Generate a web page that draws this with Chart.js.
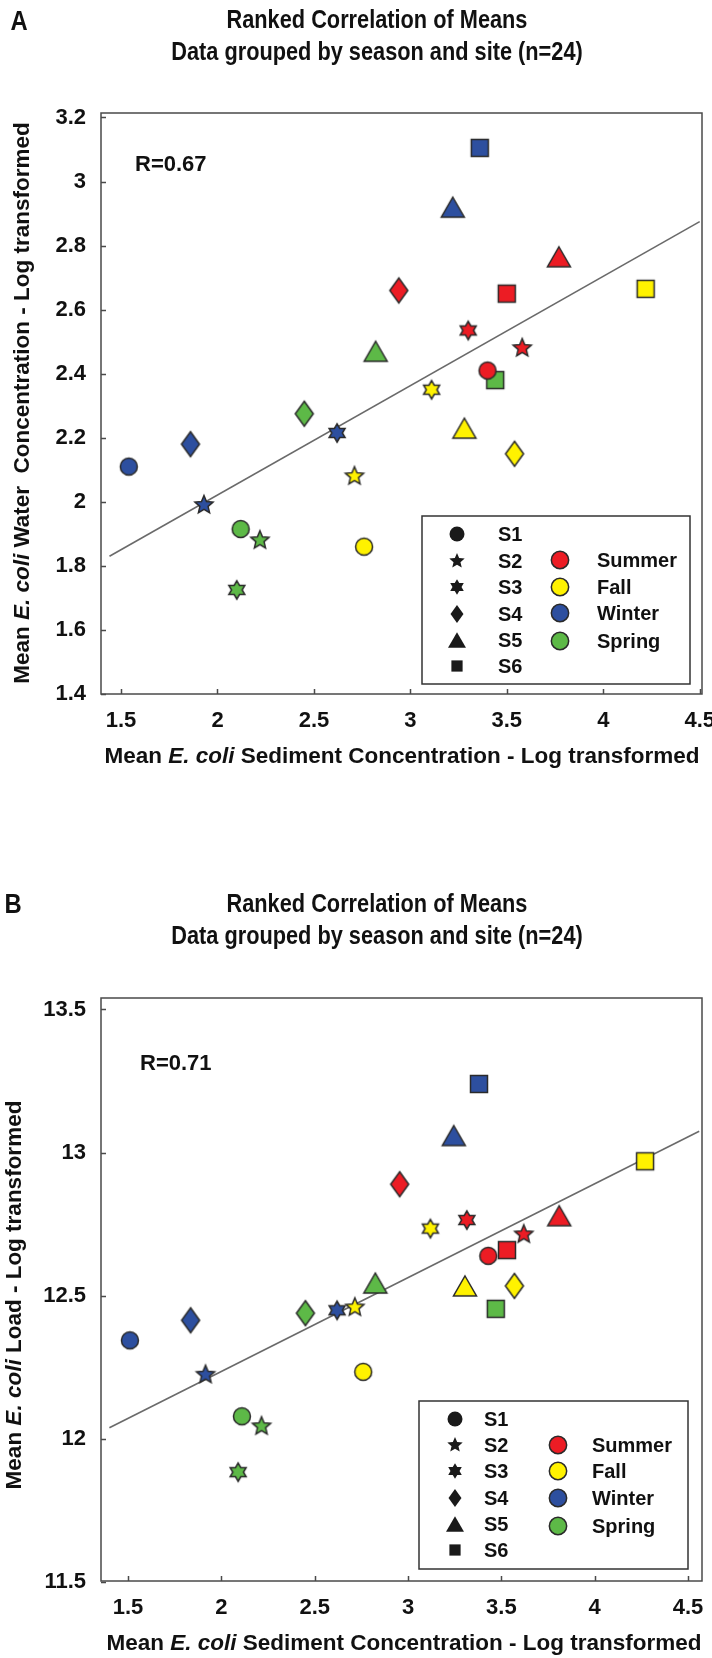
<!DOCTYPE html>
<html>
<head>
<meta charset="utf-8">
<script src="https://cdn.jsdelivr.net/npm/chart.js@4.4.1/dist/chart.umd.min.js"></script>
<style>
  body { margin: 0; background: #fff; width: 712px; height: 1658px; position: relative; overflow: hidden; }
  canvas { position: absolute; left: 0; }
  #chartA { top: 0; }
  #chartB { top: 800px; }
  .letter, .title { position: absolute; color: #111; font-weight: bold; white-space: nowrap;
    font-family: 'Liberation Sans', Arial, sans-serif; z-index: 2; transform-origin: 50% 50%; }
  .letter { font-size: 28px; line-height: 30px; width: 30px; text-align: center; transform: scaleX(0.85); }
  .title { left: 127px; width: 500px; text-align: center; font-size: 25px; line-height: 32px; transform: scaleX(0.87); }
</style>
</head>
<body>
<div class="letter" style="left:4px;top:6px">A</div>
<div class="title" style="top:3px">Ranked Correlation of Means<br>Data grouped by season and site (n=24)</div>
<div class="letter" style="left:-2px;top:889px">B</div>
<div class="title" style="top:887px">Ranked Correlation of Means<br>Data grouped by season and site (n=24)</div>
<canvas id="chartA" width="712" height="800"></canvas>
<canvas id="chartB" width="712" height="858"></canvas>
<script>
// sites S1..S6 and seasons
const siteLabels = ['S1', 'S2', 'S3', 'S4', 'S5', 'S6'];
const siteShapes = ['circle', 'star5', 'star6', 'diamond', 'triangle', 'square'];
const seasonNames = ['Summer', 'Fall', 'Winter', 'Spring'];
const seasonColors = ['#EC1C24', '#FFF200', '#2D4F9F', '#5DB947'];

// Panel A: sediment (x) vs water (y), values in site order S1..S6
const aSummerX = [3.40, 3.58, 3.30, 2.94, 3.77, 3.50];
const aSummerY = [2.41, 2.48, 2.535, 2.66, 2.765, 2.65];
const aFallX   = [2.76, 2.71, 3.11, 3.54, 3.28, 4.22];
const aFallY   = [1.86, 2.08, 2.35, 2.15, 2.23, 2.665];
const aWinterX = [1.54, 1.93, 2.62, 1.86, 3.22, 3.36];
const aWinterY = [2.11, 1.99, 2.215, 2.18, 2.92, 3.105];
const aSpringX = [2.12, 2.22, 2.10, 2.45, 2.82, 3.44];
const aSpringY = [1.915, 1.88, 1.725, 2.275, 2.47, 2.38];
const aFitX = [1.44, 4.50];
const aFitY = [1.83, 2.875];

// Panel B: sediment (x) vs load (y)
const bSummerX = [3.43, 3.62, 3.315, 2.955, 3.81, 3.53];
const bSummerY = [12.64, 12.715, 12.765, 12.89, 12.78, 12.66];
const bFallX   = [2.76, 2.715, 3.12, 3.57, 3.305, 4.27];
const bFallY   = [12.235, 12.46, 12.735, 12.535, 12.535, 12.97];
const bWinterX = [1.51, 1.915, 2.62, 1.835, 3.245, 3.38];
const bWinterY = [12.345, 12.225, 12.45, 12.415, 13.06, 13.24];
const bSpringX = [2.11, 2.215, 2.09, 2.45, 2.825, 3.47];
const bSpringY = [12.08, 12.045, 11.885, 12.44, 12.545, 12.455];
const bFitX = [1.40, 4.56];
const bFitY = [12.04, 13.075];

const xTicks = [1.5, 2, 2.5, 3, 3.5, 4, 4.5];
const yTicksA = [1.4, 1.6, 1.8, 2, 2.2, 2.4, 2.6, 2.8, 3, 3.2];
const yTicksB = [11.5, 12, 12.5, 13, 13.5];

const FONT = "'Liberation Sans', Arial, sans-serif";

// marker outlines, s = scale
function shapePath(ctx, shape, s) {
  ctx.beginPath();
  if (shape === 'circle') {
    ctx.arc(0, 0, 8.5 * s, 0, Math.PI * 2);
  } else if (shape === 'square') {
    ctx.rect(-8.5 * s, -8.5 * s, 17 * s, 17 * s);
  } else if (shape === 'diamond') {
    ctx.moveTo(0, -12.5 * s); ctx.lineTo(9 * s, 0); ctx.lineTo(0, 12.5 * s); ctx.lineTo(-9 * s, 0);
    ctx.closePath();
  } else if (shape === 'triangle') {
    ctx.moveTo(0, -10 * s); ctx.lineTo(11.5 * s, 10 * s); ctx.lineTo(-11.5 * s, 10 * s);
    ctx.closePath();
  } else {
    const n = shape === 'star5' ? 5 : 6;
    const outer = (n === 5 ? 9.5 : 9.2) * s;
    const inner = (n === 5 ? 4.3 : 5.3) * s;
    for (let i = 0; i < n * 2; i++) {
      const r = i % 2 ? inner : outer;
      const ang = -Math.PI / 2 + i * Math.PI / n;
      const px = Math.cos(ang) * r, py = Math.sin(ang) * r;
      i ? ctx.lineTo(px, py) : ctx.moveTo(px, py);
    }
    ctx.closePath();
  }
}

function makeIcon(shape, fill, s, stroke) {
  const c = document.createElement('canvas');
  c.width = 34; c.height = 34;
  const g = c.getContext('2d');
  g.translate(17, 17);
  shapePath(g, shape, s);
  g.fillStyle = fill;
  g.fill();
  if (stroke) {
    g.lineWidth = 1.5;
    g.strokeStyle = stroke;
    g.stroke();
  }
  return c;
}

const icons = seasonColors.map(col => siteShapes.map(sh => makeIcon(sh, col, 1, '#2a2a2a')));
const legendScale = { circle: 0.88, star5: 0.85, star6: 0.85, diamond: 0.72, triangle: 0.78, square: 0.66 };
const legendIcons = siteShapes.map(sh => makeIcon(sh, '#1a1a1a', legendScale[sh], null));
const seasonIcons = seasonColors.map(col => makeIcon('circle', col, 1.02, '#2a2a2a'));

function drawRich(ctx, parts, cx, cy, size, rot) {
  ctx.save();
  ctx.translate(cx, cy);
  ctx.rotate(rot);
  ctx.textBaseline = 'middle';
  ctx.textAlign = 'left';
  ctx.fillStyle = '#111';
  let total = 0;
  const fonts = parts.map(p => (p.i ? 'italic ' : '') + 'bold ' + size + 'px ' + FONT);
  const widths = parts.map((p, k) => { ctx.font = fonts[k]; return ctx.measureText(p.t).width; });
  widths.forEach(w => total += w);
  let x = -total / 2;
  parts.forEach((p, k) => { ctx.font = fonts[k]; ctx.fillText(p.t, x, 0); x += widths[k]; });
  ctx.restore();
}

const decor = {
  id: 'decor',
  afterDraw(chart, args, o) {
    const { ctx, chartArea: a, scales } = chart;
    ctx.save();
    // frame + inward ticks
    ctx.strokeStyle = '#4a4a4a';
    ctx.lineWidth = 1.5;
    ctx.strokeRect(a.left, a.top, a.right - a.left, a.bottom - a.top);
    ctx.beginPath();
    scales.x.ticks.forEach(t => {
      const px = Math.round(scales.x.getPixelForValue(t.value)) + 0.5;
      ctx.moveTo(px, a.bottom); ctx.lineTo(px, a.bottom - 5);
    });
    scales.y.ticks.forEach(t => {
      const py = Math.round(scales.y.getPixelForValue(t.value)) + 0.5;
      ctx.moveTo(a.left, py); ctx.lineTo(a.left + 5, py);
    });
    ctx.stroke();

    // R value
    ctx.font = 'bold 22px ' + FONT;
    ctx.fillStyle = '#111';
    ctx.textBaseline = 'middle';
    ctx.fillText(o.rText, o.rPos[0], o.rPos[1]);

    // axis titles
    drawRich(ctx, o.xTitle, o.xTitlePos[0], o.xTitlePos[1], 22.5, 0);
    drawRich(ctx, o.yTitle, o.yTitlePos[0], o.yTitlePos[1], 22.5, -Math.PI / 2);

    // legend box
    const L = o.legend;
    const bx = a.right - L.right - L.w, by = a.bottom - L.bottom - L.h;
    ctx.fillStyle = '#fff';
    ctx.fillRect(bx, by, L.w, L.h);
    ctx.strokeStyle = '#333';
    ctx.lineWidth = 1.5;
    ctx.strokeRect(bx, by, L.w, L.h);
    ctx.font = 'bold 20px ' + FONT;
    ctx.fillStyle = '#111';
    siteLabels.forEach((s, i) => {
      const ic = legendIcons[i];
      ctx.drawImage(ic, bx + L.shapeX - ic.width / 2, by + L.siteRows[i] - ic.height / 2);
      ctx.fillText(s, bx + L.siteTextX, by + L.siteRows[i] + 1);
    });
    seasonNames.forEach((s, i) => {
      const ic = seasonIcons[i];
      ctx.drawImage(ic, bx + L.circleX - ic.width / 2, by + L.seasonRows[i] - ic.height / 2);
      ctx.fillText(s, bx + L.seasonTextX, by + L.seasonRows[i] + 1);
    });
    ctx.restore();
  }
};

function seasonSets(xs, ys) {
  return xs.map((xArr, k) => ({
    type: 'scatter',
    label: seasonNames[k],
    data: xArr.map((v, i) => ({ x: v, y: ys[k][i] })),
    pointStyle: ctx => icons[k][ctx.dataIndex],
    pointRadius: 9,
    order: 1
  }));
}

function fitSet(fx, fy) {
  return {
    type: 'line',
    label: 'fit',
    data: fx.map((v, i) => ({ x: v, y: fy[i] })),
    borderColor: '#6a6a6a',
    borderWidth: 1.6,
    pointRadius: 0,
    order: 5
  };
}

function tickFont() {
  return { family: FONT, size: 22, weight: 'bold' };
}

function makeChart(id, cfg) {
  new Chart(document.getElementById(id), {
    type: 'scatter',
    data: { datasets: [fitSet(cfg.fitX, cfg.fitY)].concat(seasonSets(cfg.xs, cfg.ys)) },
    options: {
      responsive: false,
      animation: false,
      events: [],
      layout: { padding: { top: cfg.top, right: 10, left: 0, bottom: 0 } },
      plugins: {
        legend: { display: false },
        tooltip: { enabled: false },
        decor: cfg.decor
      },
      scales: {
        x: {
          type: 'linear', min: cfg.xMin, max: cfg.xMax,
          afterBuildTicks: s => { s.ticks = xTicks.map(v => ({ value: v })); },
          afterFit: s => { s.height = cfg.xAxisH; s.paddingLeft = 0; s.paddingRight = 0; },
          grid: { display: false, drawTicks: false },
          border: { display: false },
          ticks: { padding: 14, color: '#111', font: tickFont(), maxRotation: 0, callback: v => String(v) }
        },
        y: {
          type: 'linear', min: cfg.yMin, max: cfg.yMax,
          afterBuildTicks: s => { s.ticks = cfg.yTicks.map(v => ({ value: v })); },
          afterFit: s => { s.width = 101; s.paddingTop = 0; s.paddingBottom = 0; },
          grid: { display: false, drawTicks: false },
          border: { display: false },
          ticks: { padding: 15, color: '#111', font: tickFont(), callback: v => String(v) }
        }
      }
    },
    plugins: [decor]
  });
}

const xTitleParts = [{ t: 'Mean ' }, { t: 'E. coli', i: true }, { t: ' Sediment Concentration - Log transformed' }];

makeChart('chartA', {
  xs: [aSummerX, aFallX, aWinterX, aSpringX],
  ys: [aSummerY, aFallY, aWinterY, aSpringY],
  fitX: aFitX, fitY: aFitY,
  xMin: 1.396, xMax: 4.512, yMin: 1.4, yMax: 3.214, yTicks: yTicksA,
  top: 113, xAxisH: 106,
  decor: {
    rText: 'R=0.67', rPos: [135, 165],
    xTitle: xTitleParts, xTitlePos: [402, 757],
    yTitle: [{ t: 'Mean ' }, { t: 'E. coli', i: true }, { t: ' Water  Concentration - Log transformed' }],
    yTitlePos: [23, 403],
    legend: { w: 268, h: 168, right: 12, bottom: 10, shapeX: 35, siteTextX: 76, circleX: 138, seasonTextX: 175,
      siteRows: [18, 45, 71, 98, 124, 150], seasonRows: [44, 71, 97, 125] }
  }
});

makeChart('chartB', {
  xs: [bSummerX, bFallX, bWinterX, bSpringX],
  ys: [bSummerY, bFallY, bWinterY, bSpringY],
  fitX: bFitX, fitY: bFitY,
  xMin: 1.355, xMax: 4.575, yMin: 11.505, yMax: 13.54, yTicks: yTicksB,
  top: 198, xAxisH: 77,
  decor: {
    rText: 'R=0.71', rPos: [140, 264],
    xTitle: xTitleParts, xTitlePos: [404, 844],
    yTitle: [{ t: 'Mean ' }, { t: 'E. coli', i: true }, { t: ' Load - Log transformed' }],
    yTitlePos: [15, 495],
    legend: { w: 269, h: 168, right: 14, bottom: 12, shapeX: 36, siteTextX: 65, circleX: 139, seasonTextX: 173,
      siteRows: [18, 44, 70, 97, 123, 149], seasonRows: [44, 70, 97, 125] }
  }
});
</script>
</body>
</html>
